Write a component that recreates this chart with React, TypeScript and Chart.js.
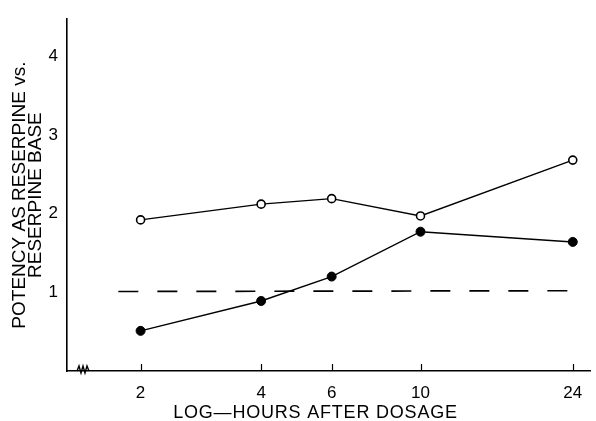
import React, { useEffect, useRef } from "react";
import { Chart, registerables } from "chart.js";

Chart.register(...registerables);

// ---- data ----
const hours = [2, 4, 6, 10, 24];
const openSeries = [1.92, 2.12, 2.19, 1.97, 2.68];
const filledSeries = [0.51, 0.89, 1.2, 1.77, 1.64];
const referenceHours = [1.76, 24];
const referenceLevel = [1.01, 1.02];
const xTickValues = [2, 4, 6, 10, 24];
const yTickValues = [1, 2, 3, 4];
const xTitle = "LOG\u2014HOURS AFTER DOSAGE";
const yTitle = ["POTENCY AS RESERPINE vs.", "RESERPINE BASE"];

const INK = "#000";
const FONT = '"Liberation Sans", Arial, Helvetica, sans-serif';

const decorPlugin = {
  id: "decor",
  afterDraw(chart: any) {
    const ctx = chart.ctx;
    const xs = chart.scales.x;
    const area = chart.chartArea;
    ctx.save();
    ctx.strokeStyle = INK;
    ctx.lineWidth = 1.2;
    // upward tick marks
    xTickValues.forEach((v) => {
      const px = Math.round(xs.getPixelForValue(v)) + 0.5;
      ctx.beginPath();
      ctx.moveTo(px, area.bottom);
      ctx.lineTo(px, area.bottom - 7);
      ctx.stroke();
    });
    // axis break zigzag
    const b = area.bottom;
    const x0 = area.left + 10;
    ctx.lineWidth = 1.4;
    ctx.beginPath();
    ctx.moveTo(x0, b);
    ctx.lineTo(x0 + 2, b - 5);
    ctx.lineTo(x0 + 4, b + 2);
    ctx.lineTo(x0 + 6, b - 5);
    ctx.lineTo(x0 + 8, b + 2);
    ctx.lineTo(x0 + 10, b - 5);
    ctx.lineTo(x0 + 12, b);
    ctx.stroke();
    // x title
    ctx.fillStyle = INK;
    ctx.font = `18px ${FONT}`;
    ctx.textAlign = "center";
    ctx.textBaseline = "middle";
    try {
      (ctx as any).letterSpacing = "0.8px";
    } catch (e) {}
    ctx.fillText(xTitle, (area.left + area.right) / 2 - 13, 413);
    ctx.restore();
  },
};

export default function App() {
  const ref = useRef<HTMLCanvasElement | null>(null);

  useEffect(() => {
    if (!ref.current) return;
    const chart = new Chart(ref.current, {
      type: "line",
      data: {
        datasets: [
          {
            label: "reference",
            data: referenceHours.map((h, i) => ({ x: h, y: referenceLevel[i] })),
            borderColor: INK,
            borderWidth: 1.7,
            borderDash: [20, 19],
            pointRadius: 0,
            fill: false,
          },
          {
            label: "salt",
            data: hours.map((h, i) => ({ x: h, y: openSeries[i] })),
            borderColor: INK,
            borderWidth: 1.4,
            pointRadius: 4,
            pointBorderWidth: 1.6,
            pointBackgroundColor: "#fff",
            pointBorderColor: INK,
            fill: false,
          },
          {
            label: "base",
            data: hours.map((h, i) => ({ x: h, y: filledSeries[i] })),
            borderColor: INK,
            borderWidth: 1.4,
            pointRadius: 4.5,
            pointBorderWidth: 1,
            pointBackgroundColor: INK,
            pointBorderColor: INK,
            fill: false,
          },
        ],
      },
      options: {
        responsive: false,
        animation: false,
        devicePixelRatio: 1,
        layout: { padding: { top: 14, right: 6, left: 0, bottom: 0 } },
        plugins: {
          legend: { display: false },
          tooltip: { enabled: false },
        },
        scales: {
          x: {
            type: "logarithmic",
            min: 1.31,
            max: 26.5,
            afterBuildTicks: (s: any) => {
              s.ticks = xTickValues.map((v) => ({ value: v }));
            },
            afterFit: (s: any) => {
              s.height = 50;
            },
            ticks: {
              autoSkip: false,
              maxRotation: 0,
              padding: 12,
              color: INK,
              font: { family: FONT, size: 17 },
              callback: (v: any) => String(v),
            },
            grid: { display: false, drawTicks: false },
            border: { display: true, color: INK, width: 1.6 },
          },
          y: {
            type: "linear",
            min: 0,
            max: 4.47,
            afterBuildTicks: (s: any) => {
              s.ticks = yTickValues.map((v) => ({ value: v }));
            },
            afterFit: (s: any) => {
              s.width = 67;
            },
            ticks: {
              padding: 9,
              color: INK,
              font: { family: FONT, size: 17 },
              callback: (v: any) => String(v),
            },
            grid: { display: false, drawTicks: false },
            border: { display: true, color: INK, width: 1.6 },
            title: {
              display: true,
              text: yTitle,
              color: INK,
              font: { family: FONT, size: 19, lineHeight: 16 / 19 },
              padding: { top: 12, bottom: 0 },
            },
          },
        },
      },
      plugins: [decorPlugin],
    });
    return () => chart.destroy();
  }, []);

  return (
    <div style={{ position: "fixed", left: 0, top: 0, width: 596, height: 421, background: "#fff" }}>
      <canvas ref={ref} width={596} height={421} />
    </div>
  );
}
